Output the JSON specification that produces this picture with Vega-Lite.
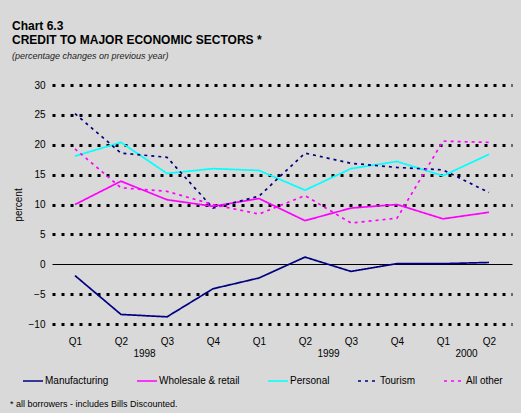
{
  "$schema": "https://vega.github.io/schema/vega-lite/v6.json",
  "width": 460,
  "height": 239,
  "padding": {"left": 10, "top": 20, "right": 20, "bottom": 20},
  "background": "#d9d9d9",
  "title": {
    "text": ["Chart 6.3", "CREDIT TO MAJOR ECONOMIC SECTORS *"],
    "subtitle": "(percentage changes on previous year)",
    "anchor": "start",
    "frame": "group",
    "dx": -40,
    "font": "Liberation Sans",
    "fontSize": 12,
    "fontWeight": "bold",
    "lineHeight": 14,
    "color": "black",
    "subtitleFont": "Liberation Sans",
    "subtitleFontSize": 9,
    "subtitleFontStyle": "italic",
    "subtitleColor": "#222222",
    "subtitlePadding": 5,
    "offset": 18
  },
  "data": {
    "values": [
      {"t": 1, "series": "Manufacturing", "value": -1.9},
      {"t": 2, "series": "Manufacturing", "value": -8.4},
      {"t": 3, "series": "Manufacturing", "value": -8.8},
      {"t": 4, "series": "Manufacturing", "value": -4.1},
      {"t": 5, "series": "Manufacturing", "value": -2.3},
      {"t": 6, "series": "Manufacturing", "value": 1.2},
      {"t": 7, "series": "Manufacturing", "value": -1.2},
      {"t": 8, "series": "Manufacturing", "value": 0.1},
      {"t": 9, "series": "Manufacturing", "value": 0.1},
      {"t": 10, "series": "Manufacturing", "value": 0.3},
      {"t": 1, "series": "Wholesale & retail", "value": 10.0},
      {"t": 2, "series": "Wholesale & retail", "value": 13.9},
      {"t": 3, "series": "Wholesale & retail", "value": 10.8},
      {"t": 4, "series": "Wholesale & retail", "value": 9.7},
      {"t": 5, "series": "Wholesale & retail", "value": 11.0},
      {"t": 6, "series": "Wholesale & retail", "value": 7.3},
      {"t": 7, "series": "Wholesale & retail", "value": 9.4},
      {"t": 8, "series": "Wholesale & retail", "value": 10.0},
      {"t": 9, "series": "Wholesale & retail", "value": 7.6},
      {"t": 10, "series": "Wholesale & retail", "value": 8.7},
      {"t": 1, "series": "Personal", "value": 18.1},
      {"t": 2, "series": "Personal", "value": 20.4},
      {"t": 3, "series": "Personal", "value": 15.2},
      {"t": 4, "series": "Personal", "value": 16.0},
      {"t": 5, "series": "Personal", "value": 15.7},
      {"t": 6, "series": "Personal", "value": 12.4},
      {"t": 7, "series": "Personal", "value": 16.0},
      {"t": 8, "series": "Personal", "value": 17.2},
      {"t": 9, "series": "Personal", "value": 14.8},
      {"t": 10, "series": "Personal", "value": 18.4},
      {"t": 1, "series": "Tourism", "value": 25.2},
      {"t": 2, "series": "Tourism", "value": 18.6},
      {"t": 3, "series": "Tourism", "value": 17.9},
      {"t": 4, "series": "Tourism", "value": 9.4},
      {"t": 5, "series": "Tourism", "value": 11.4},
      {"t": 6, "series": "Tourism", "value": 18.6},
      {"t": 7, "series": "Tourism", "value": 16.9},
      {"t": 8, "series": "Tourism", "value": 16.2},
      {"t": 9, "series": "Tourism", "value": 15.8},
      {"t": 10, "series": "Tourism", "value": 12.0},
      {"t": 1, "series": "All other", "value": 19.3},
      {"t": 2, "series": "All other", "value": 12.8},
      {"t": 3, "series": "All other", "value": 12.2},
      {"t": 4, "series": "All other", "value": 10.0},
      {"t": 5, "series": "All other", "value": 8.4},
      {"t": 6, "series": "All other", "value": 11.5},
      {"t": 7, "series": "All other", "value": 6.9},
      {"t": 8, "series": "All other", "value": 7.7},
      {"t": 9, "series": "All other", "value": 20.6},
      {"t": 10, "series": "All other", "value": 20.4}
    ]
  },
  "mark": {"type": "line", "strokeWidth": 1.7},
  "encoding": {
    "x": {
      "field": "t",
      "type": "quantitative",
      "scale": {"domain": [0.5, 10.5], "nice": false, "zero": false},
      "axis": {
        "values": [1, 2, 2.5, 3, 4, 5, 6, 6.5, 7, 8, 9, 9.5, 10],
        "labelExpr": "datum.value == 2.5 ? ['', '1998'] : datum.value == 6.5 ? ['', '1999'] : datum.value == 9.5 ? ['', '2000'] : 'Q' + ((datum.value - 1) % 4 + 1)",
        "title": null,
        "ticks": false,
        "domain": false,
        "grid": false,
        "labelFontSize": 10,
        "labelPadding": 12,
        "labelLineHeight": 12,
        "labelOverlap": false,
        "labelFlush": false,
        "labelColor": "black"
      }
    },
    "y": {
      "field": "value",
      "type": "quantitative",
      "scale": {"domain": [-10, 30], "nice": false},
      "axis": {
        "values": [-10, -5, 0, 5, 10, 15, 20, 25, 30],
        "title": "percent",
        "titleFontSize": 10,
        "titleFontWeight": "normal",
        "titleColor": "black",
        "titlePadding": 5,
        "labelFontSize": 10,
        "labelPadding": 7,
        "labelColor": "black",
        "ticks": false,
        "domain": false,
        "grid": true,
        "gridColor": "black",
        "gridOpacity": 1,
        "gridWidth": {"condition": {"test": "datum.value === 0", "value": 1}, "value": 3},
        "gridDash": {"condition": {"test": "datum.value === 0", "value": []}, "value": [3, 6]}
      }
    },
    "color": {
      "field": "series",
      "type": "nominal",
      "scale": {
        "domain": ["Manufacturing", "Wholesale & retail", "Personal", "Tourism", "All other"],
        "range": ["#000080", "#ff00ff", "#00ffff", "#000080", "#ff00ff"]
      },
      "legend": {"title": "* all borrowers - includes Bills Discounted."}
    },
    "strokeDash": {
      "field": "series",
      "type": "nominal",
      "scale": {
        "domain": ["Manufacturing", "Wholesale & retail", "Personal", "Tourism", "All other"],
        "range": [[1, 0], [1, 0], [1, 0], [3, 4], [3, 4]]
      },
      "legend": {"title": "* all borrowers - includes Bills Discounted."}
    }
  },
  "config": {
    "view": {"stroke": null},
    "font": "Liberation Sans",
    "legend": {
      "orient": "none",
      "legendX": -42,
      "legendY": 285,
      "direction": "horizontal",
      "symbolType": "stroke",
      "symbolSize": 400,
      "symbolStrokeWidth": 1.5,
      "symbolOffset": 12,
      "labelOffset": 1,
      "labelFontSize": 10,
      "labelColor": "black",
      "columnPadding": 15,
      "padding": 0,
      "titleOrient": "bottom",
      "titleAnchor": "start",
      "titleFontSize": 9,
      "titleFontWeight": "normal",
      "titleColor": "black",
      "titlePadding": 14,
      "titleLimit": 400
    }
  }
}
